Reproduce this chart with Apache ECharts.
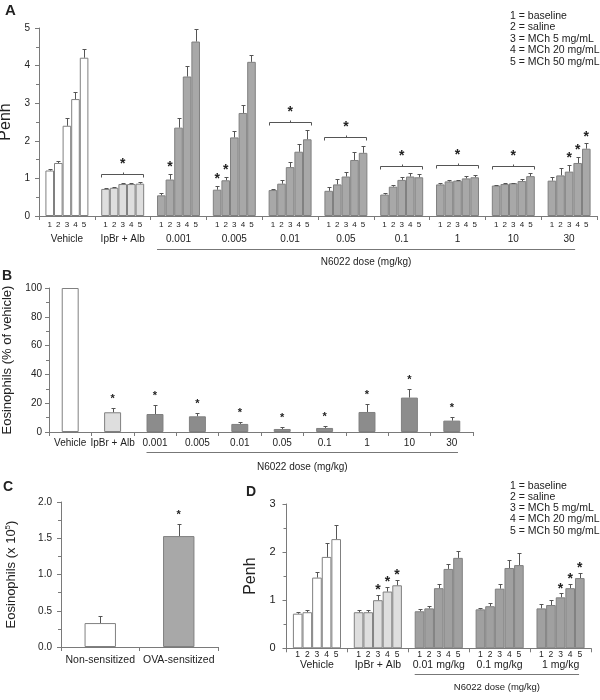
<!DOCTYPE html>
<html><head><meta charset="utf-8">
<script src="https://cdn.jsdelivr.net/npm/echarts@6/dist/echarts.min.js"></script>
<style>html,body{margin:0;padding:0;background:#fff}#c{width:600px;height:700px}</style>
</head><body><div id="c"></div>
<script>
// ---------- Panel A data ----------
const groupsA = ['Vehicle','IpBr + Alb','0.001','0.005','0.01','0.05','0.1','1','10','30'];
const barNumbers = ['1','2','3','4','5'];
const penhA = [
  [1.21,1.41,2.40,3.11,4.21],
  [0.72,0.75,0.85,0.85,0.86],
  [0.55,0.97,2.35,3.71,4.64],
  [0.70,0.95,2.09,2.74,4.10],
  [0.69,0.86,1.30,1.71,2.04],
  [0.67,0.84,1.05,1.49,1.68],
  [0.57,0.78,0.96,1.05,1.03],
  [0.84,0.92,0.94,1.00,1.03],
  [0.81,0.85,0.87,0.93,1.06],
  [0.94,1.08,1.18,1.41,1.79]
];
const errA = [
  [0.05,0.05,0.21,0.20,0.23],
  [0.03,0.02,0.03,0.03,0.05],
  [0.07,0.15,0.26,0.27,0.34],
  [0.11,0.10,0.16,0.20,0.19],
  [0.03,0.10,0.14,0.21,0.25],
  [0.11,0.15,0.11,0.22,0.19],
  [0.03,0.05,0.08,0.10,0.08],
  [0.03,0.04,0.03,0.06,0.05],
  [0.02,0.02,0.02,0.06,0.09],
  [0.10,0.19,0.17,0.16,0.14]
];
const bracketA = [null,1.12,null,null,2.50,2.11,1.34,1.35,1.33,null];
const starBarsA = [[2,1],[3,0],[3,1],[9,2],[9,3],[9,4]];
const legendLines = ['1 = baseline','2 = saline','3 = MCh 5 mg/mL','4 = MCh 20 mg/mL','5 = MCh 50 mg/mL'];
const doseTitle = 'N6022 dose (mg/kg)';

// ---------- Panel B data ----------
const catsB = ['Vehicle','IpBr + Alb','0.001','0.005','0.01','0.05','0.1','1','10','30'];
const eosB = [100,13.7,12.5,10.9,5.6,2.1,2.8,13.9,23.9,7.9];
const errB = [0,2.8,6.0,2.3,1.4,1.4,1.4,5.4,5.9,2.6];
const starB = [false,true,true,true,true,true,true,true,true,true];

// ---------- Panel C data ----------
const catsC = ['Non-sensitized','OVA-sensitized'];
const eosC = [0.33,1.53];
const errC = [0.10,0.16];
const starC = [false,true];

// ---------- Panel D data ----------
const groupsD = ['Vehicle','IpBr + Alb','0.01 mg/kg','0.1 mg/kg','1 mg/kg'];
const penhD = [
  [0.72,0.75,1.47,1.90,2.27],
  [0.75,0.75,1.00,1.18,1.31],
  [0.77,0.83,1.25,1.65,1.88],
  [0.81,0.875,1.24,1.67,1.73],
  [0.83,0.90,1.06,1.25,1.46]
];
const errD = [
  [0.035,0.04,0.12,0.28,0.30],
  [0.04,0.04,0.10,0.09,0.11],
  [0.05,0.05,0.08,0.11,0.14],
  [0.02,0.06,0.10,0.16,0.25],
  [0.10,0.11,0.08,0.08,0.10]
];
const starBarsD = [[1,2],[1,3],[1,4],[4,2],[4,3],[4,4]];

// ---------- styling ----------
const FONT = 'Liberation Sans, Arial, sans-serif';
const TXT = '#222';
const AX = '#7a7a7a';
const ERR = '#555';
const BORDER = '#808080';
const GAP_A = 0.23, GAP_D = 0.21, BW_SINGLE = 0.4;

function kindColor(gi, nColor){ return gi === 0 ? '#ffffff' : (gi === 1 ? '#dedede' : nColor); }

function barX(api, gi, bi, nBars, fill){
  const band = api.size([1,0])[0];
  const total = band * fill;
  const cx = api.coord([gi,0])[0];
  return cx - total/2 + (bi + 0.5) * total / nBars;
}
function errRender(nBars, fill, cap){
  return function(params, api){
    const gi = api.value(0), bi = api.value(1), v = api.value(2), e = api.value(3);
    if (!e) return null;
    const x = Math.round(barX(api, gi, bi, nBars, fill)) + 0.5;
    const y0 = api.coord([gi, v])[1], y1 = Math.round(api.coord([gi, v + e])[1]) + 0.5;
    return {type:'group', children:[
      {type:'line', shape:{x1:x,y1:y0,x2:x,y2:y1}, style:{stroke:ERR,lineWidth:1}},
      {type:'line', shape:{x1:x-cap,y1:y1,x2:x+cap,y2:y1}, style:{stroke:ERR,lineWidth:1}}
    ]};
  };
}
function starRender(nBars, fill, gap, size){
  return function(params, api){
    const gi = api.value(0), bi = api.value(1), v = api.value(2), e = api.value(3);
    const x = barX(api, gi, bi, nBars, fill);
    const y = api.coord([gi, v + e])[1] - gap + size*0.23;
    return {type:'text', x:x, y:y, style:{text:'*', fontSize:size, fontFamily:FONT, fontWeight:'bold', fill:TXT, align:'center', verticalAlign:'middle'}};
  };
}
function bracketRender(params, api){
  const gi = api.value(0), lv = api.value(1);
  const band = api.size([1,0])[0], total = band * (1 - GAP_A);
  const cx = api.coord([gi,0])[0];
  const x1 = Math.round(cx - total/2) + 0.5, x2 = Math.round(cx + total/2 - 1) + 0.5;
  const y = Math.round(api.coord([gi, lv])[1]) + 0.5;
  const xc = Math.round(cx) + 0.5;
  return {type:'group', children:[
    {type:'polyline', shape:{points:[[x1,y+3],[x1,y],[x2,y],[x2,y+3]]}, style:{stroke:ERR,fill:null,lineWidth:1}},
    {type:'line', shape:{x1:xc,y1:y,x2:xc,y2:y-2}, style:{stroke:ERR,lineWidth:1}},
    {type:'text', x:cx, y:y-14+3.2, style:{text:'*', fontSize:14, fontFamily:FONT, fontWeight:'bold', fill:TXT, align:'center', verticalAlign:'middle'}}
  ]};
}
function spanRender(cfg){
  return function(params, api){
    const s = api.value(0), e = api.value(1);
    const band = api.size([1,0])[0];
    const half = band * cfg.fill / 2;
    const x1 = api.coord([s,0])[0] - half, x2 = api.coord([e,0])[0] + half * cfg.endK;
    const y0 = api.coord([s,0])[1];
    const y = Math.round(y0 + cfg.lineOff) + 0.5;
    return {type:'group', children:[
      {type:'line', shape:{x1:x1,y1:y,x2:x2,y2:y}, style:{stroke:'#777',lineWidth:1}},
      {type:'text', x:(x1+x2)/2, y:y+cfg.textOff, style:{text:doseTitle, fontSize:cfg.fontSize, fontFamily:FONT, fill:TXT, align:'center', verticalAlign:'middle'}}
    ]};
  };
}

function groupedBarSeries(axisIdx, groups, vals, gap, nColor, labelDist, labelSize){
  return barNumbers.map((num, bi) => ({
    type:'bar', xAxisIndex:axisIdx, yAxisIndex:axisIdx,
    barGap:'0%', barCategoryGap:(gap*100)+'%',
    data: groups.map((g, gi) => ({value: vals[gi][bi], itemStyle:{color: kindColor(gi, nColor)}})),
    itemStyle:{borderColor:BORDER, borderWidth:1},
    label:{show:true, position:'bottom', distance:labelDist, formatter:num, fontSize:labelSize, fontFamily:FONT, color:TXT},
    silent:true, z:2
  }));
}
function flat(vals, errs){
  const out = [];
  vals.forEach((row, gi) => row.forEach((v, bi) => out.push([gi, bi, v, errs[gi][bi]])));
  return out;
}
function starData(list, vals, errs){ return list.map(([gi,bi]) => [gi, bi, vals[gi][bi], errs[gi][bi]]); }

const axisLine = {show:true, lineStyle:{color:AX, width:1}};
function yAxisCfg(idx, max, interval, name, nameGap, nameSize, labelSize, labelMargin, fmt){
  return {
    type:'value', gridIndex:idx, min:0, max:max, interval:interval,
    axisLine:axisLine, axisTick:{show:true, length:4, lineStyle:{color:AX}},
    minorTick:{show:true, splitNumber:2, length:3, lineStyle:{color:AX}},
    splitLine:{show:false},
    axisLabel:{fontSize:labelSize, fontFamily:FONT, color:TXT, margin:labelMargin, formatter:fmt},
    name:name, nameLocation:'middle', nameGap:nameGap, nameRotate:90,
    nameTextStyle:{fontSize:nameSize, fontFamily:FONT, color:TXT,
      rich:{sup:{fontSize:8, fontFamily:FONT, color:TXT, verticalAlign:'top', padding:[0,0,6,0]}, base:{fontSize:nameSize, fontFamily:FONT, color:TXT}}}
  };
}
function xAxisCfg(idx, cats, labelSize, margin){
  return {
    type:'category', gridIndex:idx, data:cats, boundaryGap:true,
    axisLine:axisLine, axisTick:{show:true, length:4, interval:0, lineStyle:{color:AX}},
    axisLabel:{interval:0, fontSize:labelSize, fontFamily:FONT, color:TXT, margin:margin}
  };
}

const option = {
  animation:false,
  backgroundColor:'#fff',
  grid:[
    {left:39, top:28, width:558, height:188, outerBoundsMode:'none'},
    {left:49, top:288, width:424, height:144, outerBoundsMode:'none'},
    {left:61, top:502, width:157, height:145, outerBoundsMode:'none'},
    {left:286.5, top:504, width:304.5, height:144.3, outerBoundsMode:'none'}
  ],
  xAxis:[
    xAxisCfg(0, groupsA, 10, 18),
    xAxisCfg(1, catsB, 10, 6),
    xAxisCfg(2, catsC, 10.5, 8),
    xAxisCfg(3, groupsD, 10.5, 11)
  ],
  yAxis:[
    yAxisCfg(0, 5, 1, 'Penh', 19, 16, 10, 9),
    yAxisCfg(1, 100, 20, 'Eosinophils (% of vehicle)', 25, 13, 10, 7),
    yAxisCfg(2, 2, 0.5, '{base|Eosinophils (x 10}{sup|5}{base|)}', 43, 13, 10, 9, v => v.toFixed(1)),
    yAxisCfg(3, 3, 1, 'Penh', 24, 16, 11, 11)
  ],
  graphic:[
    {type:'text', left:5, top:3, style:{text:'A', fontSize:15, fontWeight:'bold', fontFamily:FONT, fill:TXT}},
    {type:'text', left:2, top:269, style:{text:'B', fontSize:14, fontWeight:'bold', fontFamily:FONT, fill:TXT}},
    {type:'text', left:3, top:480, style:{text:'C', fontSize:14, fontWeight:'bold', fontFamily:FONT, fill:TXT}},
    {type:'text', left:246, top:485, style:{text:'D', fontSize:14, fontWeight:'bold', fontFamily:FONT, fill:TXT}},
    {type:'text', left:510, top:10, style:{text:legendLines.join('\n'), fontSize:10.5, lineHeight:11.5, fontFamily:FONT, fill:TXT}},
    {type:'text', left:510, top:480, style:{text:legendLines.join('\n'), fontSize:10.5, lineHeight:11.3, fontFamily:FONT, fill:TXT}}
  ],
  series:[
    // Panel A
    ...groupedBarSeries(0, groupsA, penhA, GAP_A, '#a8a8a8', 5, 8),
    {type:'custom', xAxisIndex:0, yAxisIndex:0, renderItem:errRender(5, 1-GAP_A, 2), data:flat(penhA, errA), encode:{x:0,y:2}, silent:true, z:3},
    {type:'custom', xAxisIndex:0, yAxisIndex:0, renderItem:starRender(5, 1-GAP_A, 10, 14), data:starData(starBarsA, penhA, errA), encode:{x:0,y:2}, silent:true, z:3},
    {type:'custom', xAxisIndex:0, yAxisIndex:0, renderItem:bracketRender, data:bracketA.map((lv,gi)=>lv==null?null:[gi,lv]).filter(Boolean), encode:{x:0,y:1}, silent:true, z:3},
    {type:'custom', xAxisIndex:0, yAxisIndex:0, renderItem:spanRender({fill:1-GAP_A, endK:0.28, lineOff:33, textOff:13, fontSize:10}), data:[[2,9,0]], encode:{x:[0,1],y:2}, silent:true, z:3},
    // Panel B
    {type:'bar', xAxisIndex:1, yAxisIndex:1, barWidth:'40%',
      data:eosB.map((v,i)=>({value:v, itemStyle:{color:kindColor(i,'#8c8c8c')}})),
      itemStyle:{borderColor:BORDER, borderWidth:1}, silent:true},
    {type:'custom', xAxisIndex:1, yAxisIndex:1, renderItem:errRender(1, BW_SINGLE, 2), data:eosB.map((v,i)=>[i,0,v,errB[i]]), encode:{x:0,y:2}, silent:true, z:3},
    {type:'custom', xAxisIndex:1, yAxisIndex:1, renderItem:starRender(1, BW_SINGLE, 11.5, 11), data:eosB.map((v,i)=>starB[i]?[i,0,v,errB[i]]:null).filter(Boolean), encode:{x:0,y:2}, silent:true, z:3},
    {type:'custom', xAxisIndex:1, yAxisIndex:1, renderItem:spanRender({fill:BW_SINGLE, endK:0.73, lineOff:20, textOff:15, fontSize:10}), data:[[2,9,0]], encode:{x:[0,1],y:2}, silent:true, z:3},
    // Panel C
    {type:'bar', xAxisIndex:2, yAxisIndex:2, barWidth:'40%',
      data:eosC.map((v,i)=>({value:v, itemStyle:{color:i===0?'#ffffff':'#a8a8a8'}})),
      itemStyle:{borderColor:BORDER, borderWidth:1}, silent:true},
    {type:'custom', xAxisIndex:2, yAxisIndex:2, renderItem:errRender(1, BW_SINGLE, 2), data:eosC.map((v,i)=>[i,0,v,errC[i]]), encode:{x:0,y:2}, silent:true, z:3},
    {type:'custom', xAxisIndex:2, yAxisIndex:2, renderItem:starRender(1, BW_SINGLE, 12, 11), data:eosC.map((v,i)=>starC[i]?[i,0,v,errC[i]]:null).filter(Boolean), encode:{x:0,y:2}, silent:true, z:3},
    // Panel D
    ...groupedBarSeries(3, groupsD, penhD, GAP_D, '#a0a0a0', 2, 8.5),
    {type:'custom', xAxisIndex:3, yAxisIndex:3, renderItem:errRender(5, 1-GAP_D, 2), data:flat(penhD, errD), encode:{x:0,y:2}, silent:true, z:3},
    {type:'custom', xAxisIndex:3, yAxisIndex:3, renderItem:starRender(5, 1-GAP_D, 8, 14), data:starData(starBarsD, penhD, errD), encode:{x:0,y:2}, silent:true, z:3},
    {type:'custom', xAxisIndex:3, yAxisIndex:3, renderItem:spanRender({fill:1-GAP_D, endK:0.77, lineOff:26, textOff:13, fontSize:9.5}), data:[[2,4,0]], encode:{x:[0,1],y:2}, silent:true, z:3}
  ]
};
const chart = echarts.init(document.getElementById('c'));
chart.setOption(option);
</script>
</body></html>
